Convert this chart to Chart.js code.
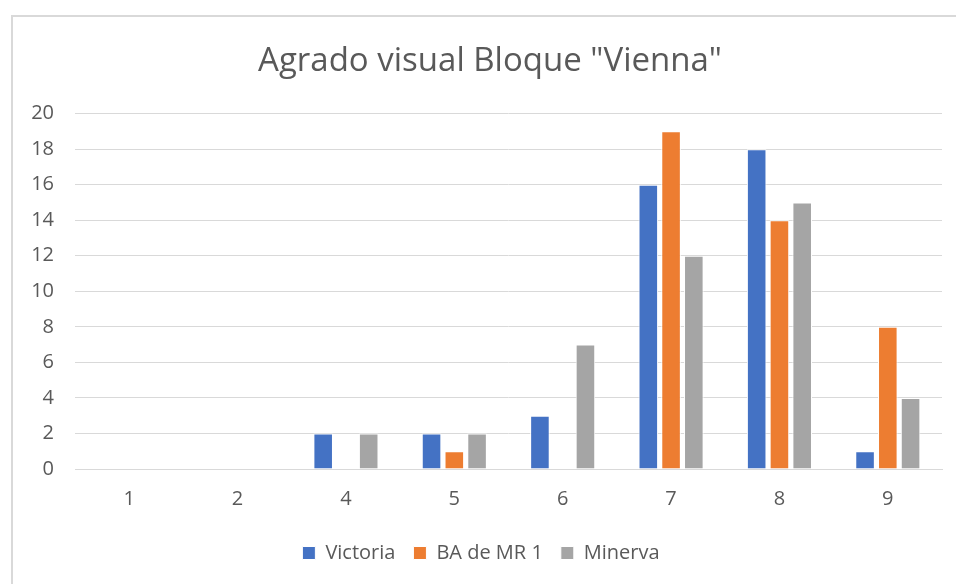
<!DOCTYPE html>
<html>
<head>
<meta charset="utf-8">
<script src="https://cdn.jsdelivr.net/npm/chart.js@4.4.1/dist/chart.umd.min.js"></script>
<style>
  html, body { margin: 0; padding: 0; background: #ffffff; }
  #wrap { position: relative; width: 956px; height: 584px; overflow: hidden; }
  #frame { position: absolute; left: 11px; top: 15px; width: 960px; height: 600px;
           border-left: 2px solid #d9d9d9; border-top: 2px solid #d9d9d9; box-sizing: border-box; }
  canvas { position: absolute; left: 0; top: 0; }
</style>
</head>
<body>
<div id="wrap">
  <div id="frame"></div>
  <canvas id="c" width="956" height="584"></canvas>
</div>
<script>
const chartTitle = 'Agrado visual Bloque "Vienna"';
const categories = ['1', '2', '4', '5', '6', '7', '8', '9'];
const victoria = [0, 0, 2, 2, 3, 16, 18, 1];
const baDeMR1 = [0, 0, 0, 1, 0, 19, 14, 8];
const minerva = [0, 0, 2, 2, 7, 12, 15, 4];
const yTicks = [0, 2, 4, 6, 8, 10, 12, 14, 16, 18, 20];

const FONT = '"Open Sans", sans-serif';
const TXT = '#595959';

// shifts the title block slightly right, as in the original (title centred over the frame)
const titleShift = {
  id: 'titleShift',
  afterLayout(chart) {
    const t = chart.titleBlock;
    if (t) { t.left += 9; t.right += 9; }
  }
};

new Chart(document.getElementById('c'), {
  type: 'bar',
  data: {
    labels: categories,
    datasets: [
      { label: 'Victoria', data: victoria, backgroundColor: '#4472C4', borderColor: '#ffffff', borderWidth: 1 },
      { label: 'BA de MR 1', data: baDeMR1, backgroundColor: '#ED7D31', borderColor: '#ffffff', borderWidth: 1 },
      { label: 'Minerva', data: minerva, backgroundColor: '#A5A5A5', borderColor: '#ffffff', borderWidth: 1 }
    ]
  },
  plugins: [titleShift],
  options: {
    responsive: false,
    animation: false,
    devicePixelRatio: 1,
    layout: { padding: { left: 20, right: 14, top: 20, bottom: 11 } },
    datasets: { bar: { categoryPercentage: 0.63, barPercentage: 0.86 } },
    plugins: {
      title: {
        display: true, text: chartTitle, color: TXT,
        font: { family: FONT, size: 33, weight: 'normal' },
        padding: { top: 22, bottom: 32 }
      },
      legend: {
        position: 'bottom',
        labels: {
          color: TXT, font: { family: FONT, size: 20 },
          boxWidth: 13, boxHeight: 13, padding: 18
        }
      },
      tooltip: { enabled: false }
    },
    scales: {
      x: {
        grid: { display: false, drawTicks: false },
        border: { display: true, color: '#d9d9d9', width: 1 },
        ticks: { color: TXT, font: { family: FONT, size: 20 }, padding: 18 },
        afterFit: (s) => { s.height = 56; }
      },
      y: {
        min: 0, max: 20,
        afterBuildTicks: (s) => { s.ticks = yTicks.map(v => ({ value: v })); },
        grid: { color: '#d9d9d9', lineWidth: 1, drawTicks: false },
        border: { display: false },
        ticks: { color: TXT, font: { family: FONT, size: 20 }, padding: 21 },
        afterFit: (s) => { s.width = 55; }
      }
    }
  }
});
</script>
</body>
</html>
